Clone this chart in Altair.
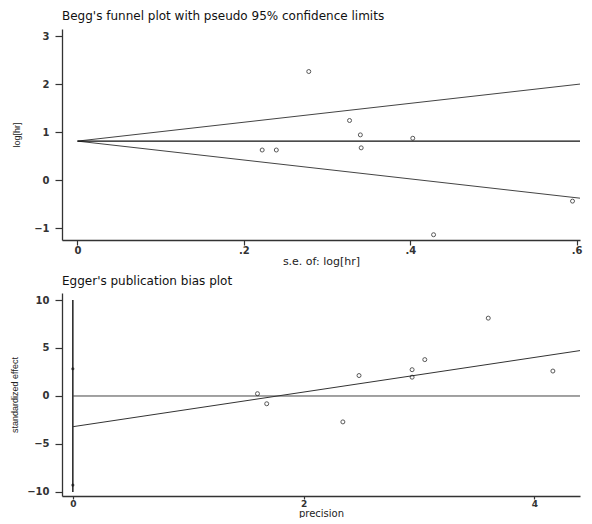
import altair as alt
import pandas as pd

# ---- Begg's funnel plot data ----
begg_se = [0.222, 0.239, 0.278, 0.327, 0.340, 0.341, 0.403, 0.428, 0.595]
begg_loghr = [0.625, 0.625, 2.26, 1.24, 0.94, 0.67, 0.87, -1.14, -0.44]
funnel_se = [0.0, 0.62]
funnel_upper = [0.81, 2.03]
funnel_center = [0.81, 0.81]
funnel_lower = [0.81, -0.41]

# ---- Egger's publication bias plot data ----
egger_precision = [1.60, 1.68, 2.34, 2.48, 2.94, 2.94, 3.05, 3.60, 4.16, 4.48]
egger_effect = [0.24, -0.81, -2.70, 2.13, 2.74, 1.96, 3.79, 8.11, 2.60, 2.81]
reg_precision = [0.0, 4.49]
reg_effect = [-3.2, 4.9]
zero_precision = [0.0, 4.49]
zero_effect = [0.0, 0.0]
ci_precision = [0.0, 0.0]
ci_bounds = [2.84, -9.28]
vline_effect = [-10.0, 10.0]

LABEL_FONT = "DejaVu Sans"
YTITLE_FONT = "Liberation Sans"

# ---------- Top chart ----------
begg_pts = pd.DataFrame({"se": begg_se, "val": begg_loghr})
funnel_df = pd.DataFrame({
    "se": funnel_se * 3,
    "val": funnel_upper + funnel_center + funnel_lower,
    "grp": ["upper"] * 2 + ["center"] * 2 + ["lower"] * 2,
})

tx = alt.X("se:Q",
           scale=alt.Scale(domain=[-0.0186, 0.604], nice=False, zero=False),
           axis=alt.Axis(values=[0, 0.2, 0.4, 0.6],
                         labelExpr="datum.value == 0 ? '0' : substring(format(datum.value, '.1f'), 1)",
                         title="s.e. of: log[hr]", titleFontSize=11, titlePadding=0))
ty = alt.Y("val:Q",
           scale=alt.Scale(domain=[-1.25, 3.146], nice=False, zero=False),
           axis=alt.Axis(values=[-1, 0, 1, 2, 3], title="log[hr]",
                         titleX=-46, titleBaseline="middle"))

t_lines = alt.Chart(funnel_df).transform_filter("datum.grp != 'center'").mark_line(
    clip=True, color="#444", strokeWidth=1).encode(x=tx, y=ty, detail="grp:N")
t_center = alt.Chart(funnel_df).transform_filter("datum.grp == 'center'").mark_line(
    clip=True, color="#111", strokeWidth=1.4).encode(x=tx, y=ty)
t_pts = alt.Chart(begg_pts).mark_point(
    clip=True, shape="circle", filled=False, size=16, strokeWidth=1, color="#111").encode(x=tx, y=ty)

top = alt.layer(t_lines, t_center, t_pts).properties(
    width=518, height=211,
    title=alt.TitleParams("Begg's funnel plot with pseudo 95% confidence limits",
                          anchor="start", frame="group", offset=6))

# ---------- Bottom chart ----------
egger_pts = pd.DataFrame({"p": egger_precision, "e": egger_effect})
reg_df = pd.DataFrame({"p": reg_precision, "e": reg_effect})
zero_df = pd.DataFrame({"p": zero_precision, "e": zero_effect})
ci_df = pd.DataFrame({"p": ci_precision, "e": ci_bounds})
vline_df = pd.DataFrame({"p": [0.0, 0.0], "e": vline_effect})

bx = alt.X("p:Q",
           scale=alt.Scale(domain=[-0.094, 4.395], nice=False, zero=False),
           axis=alt.Axis(values=[0, 2, 4], title="precision", titlePadding=0,
                         titleFontSize=10, labelFontSize=9, tickSize=3))
by = alt.Y("e:Q",
           scale=alt.Scale(domain=[-10.42, 10.73], nice=False, zero=False),
           axis=alt.Axis(values=[-10, -5, 0, 5, 10], title="standardized effect",
                         titleX=-48, titleBaseline="middle"))

b_vline = alt.Chart(vline_df).mark_line(color="#111", strokeWidth=1.4).encode(x=bx, y=by)
b_zero = alt.Chart(zero_df).mark_line(clip=True, color="#444", strokeWidth=1).encode(x=bx, y=by)
b_reg = alt.Chart(reg_df).mark_line(clip=True, color="#333", strokeWidth=1).encode(x=bx, y=by)
b_ci = alt.Chart(ci_df).mark_point(shape="circle", filled=True, size=10, color="#111").encode(x=bx, y=by)
b_pts = alt.Chart(egger_pts).mark_point(
    clip=True, shape="circle", filled=False, size=16, strokeWidth=1, color="#111").encode(x=bx, y=by)

bottom = alt.layer(b_vline, b_zero, b_reg, b_ci, b_pts).properties(
    width=518, height=203,
    title=alt.TitleParams("Egger's publication bias plot",
                          anchor="start", frame="group", offset=5))

chart = alt.vconcat(top, bottom, spacing=9).properties(
    padding={"left": 2, "top": 2, "right": 0, "bottom": 0}
).configure_view(strokeWidth=0).configure_axis(
    grid=False,
    domainColor="#333", domainWidth=1.3,
    tickColor="#333", tickWidth=1.2,
    labelColor="#333", labelFont=LABEL_FONT, labelFontSize=10, labelFontWeight="bold",
    titleColor="#222", titleFont=LABEL_FONT, titleFontWeight="normal",
).configure_axisX(
    tickSize=5, labelPadding=0
).configure_axisY(
    tickSize=7, labelPadding=6, titleFont=YTITLE_FONT, titleFontSize=9
).configure_title(
    font=LABEL_FONT, fontSize=12, fontWeight="normal", color="#111"
)

chart.save("out.html", embed_options={"renderer": "svg", "actions": False})
